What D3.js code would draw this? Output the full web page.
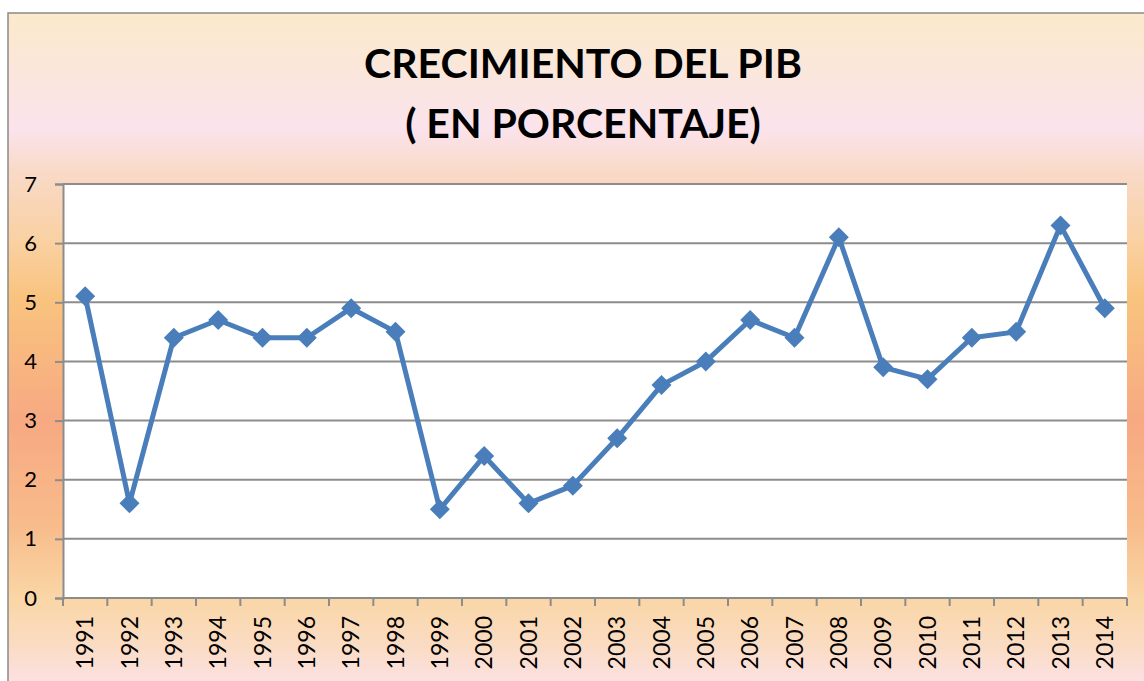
<!DOCTYPE html>
<html>
<head>
<meta charset="utf-8">
<script src="https://cdn.jsdelivr.net/npm/d3@7"></script>
<style>
  html, body { margin: 0; padding: 0; background: #fff; }
  svg { display: block; }
</style>
</head>
<body>
<div class="container"></div>
<script>
const years = ['1991','1992','1993','1994','1995','1996','1997','1998','1999','2000',
  '2001','2002','2003','2004','2005','2006','2007','2008','2009','2010',
  '2011','2012','2013','2014'];
const growth = [5.1, 1.6, 4.4, 4.7, 4.4, 4.4, 4.9, 4.5, 1.5, 2.4,
  1.6, 1.9, 2.7, 3.6, 4.0, 4.7, 4.4, 6.1, 3.9, 3.7,
  4.4, 4.5, 6.3, 4.9];
const yTicks = [0, 1, 2, 3, 4, 5, 6, 7];
const titleLines = ['CRECIMIENTO DEL PIB', '( EN PORCENTAJE)'];

const WIDTH = 1144;
const HEIGHT = 681;
const PLOT = { left: 63, top: 184, right: 1127, bottom: 598 };
const FONT = 'Lato, "Open Sans", sans-serif';

var svg = d3.select('.container').append('svg')
    .attr('width', WIDTH)
    .attr('height', HEIGHT);

// background gradient of the chart area
var defs = svg.append('defs');
var grad = defs.append('linearGradient')
    .attr('id', 'bg').attr('x1', 0).attr('y1', 0).attr('x2', 0).attr('y2', 1);
[
  [0.00, '#fbeacb'],
  [0.17, '#fbe3ec'],
  [0.23, '#f9dac9'],
  [0.34, '#fad0a0'],
  [0.42, '#f9c37e'],
  [0.60, '#f7a982'],
  [0.75, '#f8bb8a'],
  [0.86, '#fad6a6'],
  [0.93, '#fadcc4'],
  [1.00, '#fce3ec']
].forEach(s => grad.append('stop').attr('offset', s[0]).attr('stop-color', s[1]));

svg.append('rect')
    .attr('x', 8).attr('y', 13)
    .attr('width', WIDTH).attr('height', HEIGHT)
    .attr('fill', 'url(#bg)')
    .attr('stroke', '#8a8a8a')
    .attr('stroke-width', 1.5);

// title
svg.append('g').selectAll('text').data(titleLines)
  .enter().append('text')
    .attr('x', 583)
    .attr('y', (d, i) => 78 + i * 60)
    .attr('text-anchor', 'middle')
    .attr('font-family', FONT)
    .attr('font-weight', 'bold')
    .attr('font-size', 41)
    .attr('fill', '#000')
    .text(d => d);

var xScale = d3.scaleBand()
    .domain(years)
    .range([PLOT.left, PLOT.right]);

var yScale = d3.scaleLinear()
    .domain([0, 7])
    .range([PLOT.bottom, PLOT.top]);

// plot area
svg.append('rect')
    .attr('x', PLOT.left).attr('y', PLOT.top)
    .attr('width', PLOT.right - PLOT.left)
    .attr('height', PLOT.bottom - PLOT.top)
    .attr('fill', '#fff');

// gridlines
svg.append('g').selectAll('line').data(yTicks.filter(t => t > 0))
  .enter().append('line')
    .attr('x1', PLOT.left).attr('x2', PLOT.right)
    .attr('y1', d => yScale(d)).attr('y2', d => yScale(d))
    .attr('stroke', '#8c8c8c')
    .attr('stroke-width', 2);

// y axis
var yAxis = d3.axisLeft(yScale).tickValues(yTicks).tickFormat(d3.format('d'))
    .tickSize(8).tickPadding(18);
var gy = svg.append('g')
    .attr('transform', `translate(${PLOT.left}, 0)`)
    .call(yAxis);
gy.select('.domain').attr('stroke', '#8c8c8c').attr('stroke-width', 2);
gy.selectAll('.tick line').attr('stroke', '#8c8c8c').attr('stroke-width', 2);
gy.selectAll('.tick text')
    .attr('font-family', FONT)
    .attr('font-size', 22)
    .attr('fill', '#000');

// x axis: ticks at category boundaries
var bounds = years.map(y => xScale(y)).concat([PLOT.right]);
var gx = svg.append('g');
gx.append('line')
    .attr('x1', PLOT.left).attr('x2', PLOT.right)
    .attr('y1', PLOT.bottom).attr('y2', PLOT.bottom)
    .attr('stroke', '#8c8c8c').attr('stroke-width', 2);
gx.selectAll('line.tk').data(bounds)
  .enter().append('line')
    .attr('class', 'tk')
    .attr('x1', d => d).attr('x2', d => d)
    .attr('y1', PLOT.bottom).attr('y2', PLOT.bottom + 8)
    .attr('stroke', '#8c8c8c').attr('stroke-width', 2);
gx.selectAll('text').data(years)
  .enter().append('text')
    .attr('transform', d => `translate(${xScale(d) + xScale.bandwidth() / 2 + 8}, 616) rotate(-90)`)
    .attr('text-anchor', 'end')
    .attr('font-family', FONT)
    .attr('font-size', 23)
    .attr('fill', '#000')
    .text(d => d);

// series line
var line = d3.line()
    .x((d, i) => xScale(years[i]) + xScale.bandwidth() / 2)
    .y(d => yScale(d));

svg.append('path')
    .datum(growth)
    .attr('d', line)
    .attr('fill', 'none')
    .attr('stroke', '#4a7ebb')
    .attr('stroke-width', 5)
    .attr('stroke-linejoin', 'round');

var diamond = d3.symbol().type(d3.symbolSquare).size(200);
svg.append('g').selectAll('path').data(growth)
  .enter().append('path')
    .attr('d', diamond)
    .attr('transform', (d, i) => `translate(${xScale(years[i]) + xScale.bandwidth() / 2}, ${yScale(d)}) rotate(45)`)
    .attr('fill', '#4a7ebb');
</script>
</body>
</html>
